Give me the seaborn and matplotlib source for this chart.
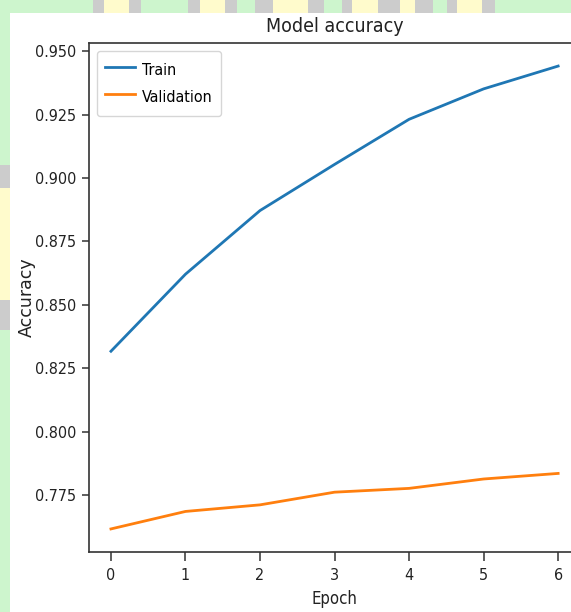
import matplotlib
matplotlib.use("Agg")
import matplotlib.pyplot as plt
from matplotlib.patches import Rectangle
from matplotlib.lines import Line2D
import seaborn as sns
import pandas as pd

# ---- data ----
epochs = [0, 1, 2, 3, 4, 5, 6]
train_acc = [0.8317, 0.8621, 0.8872, 0.9054, 0.9232, 0.9352, 0.9442]
val_acc = [0.7616, 0.7685, 0.7711, 0.7761, 0.7776, 0.7813, 0.7835]
series_names = ["Train", "Validation"]
series_colors = ["#1f77b4", "#ff7f0e"]
y_ticks = [0.775, 0.800, 0.825, 0.850, 0.875, 0.900, 0.925, 0.950]
title = "Model accuracy"
x_label = "Epoch"
y_label = "Accuracy"

W, H = 571, 612
fig = plt.figure(figsize=(W / 100, H / 100), dpi=100, facecolor="#cdf5cd")

def px_rect(x0, y0, x1, y1, color, z=0):
    fig.add_artist(Rectangle((x0 / W, 1 - y1 / H), (x1 - x0) / W, (y1 - y0) / H,
                             transform=fig.transFigure, facecolor=color,
                             edgecolor="none", zorder=z))

GREEN, YELLOW, GRAY = "#cdf5cd", "#fffbcc", "#cccccc"
# decorative background strip along the top
top = [(93, 104, GRAY), (104, 129, YELLOW), (129, 141, GRAY), (188, 200, GRAY),
       (200, 225, YELLOW), (225, 237, GRAY), (255, 273, GRAY), (273, 308, YELLOW),
       (308, 324, GRAY), (342, 352, GRAY), (352, 378, YELLOW), (378, 400, GRAY),
       (400, 415, YELLOW), (415, 433, GRAY), (447, 457, GRAY), (457, 482, YELLOW),
       (482, 495, GRAY)]
for x0, x1, c in top:
    px_rect(x0, 0, x1, 13, c, z=-5)
# decorative strip along the left
left = [(165, 188, GRAY), (188, 300, YELLOW), (300, 330, GRAY)]
for y0, y1, c in left:
    px_rect(0, y0, 10, y1, c, z=-5)
# white screenshot area
px_rect(10, 13, W, H, "white", z=-4)

ax = fig.add_axes([88.6 / W, 1 - 552 / H, (580.5 - 88.6) / W, (552 - 43) / H])
ax.set_facecolor("white")

df = pd.DataFrame({"epoch": epochs * 2,
                   "accuracy": train_acc + val_acc,
                   "series": [series_names[0]] * len(epochs) + [series_names[1]] * len(epochs)})
sns.lineplot(data=df, x="epoch", y="accuracy", hue="series",
             palette=dict(zip(series_names, series_colors)), linewidth=2.0,
             ax=ax, legend=False)

fp = dict(family="DejaVu Sans", stretch="condensed")
ax.set_title(title, fontsize=14, pad=8, color="#222222", **fp)
ax.set_xlabel(x_label, fontsize=12, labelpad=5, color="#222222", **fp)
ax.set_ylabel(y_label, fontsize=12.5, color="#222222", family="DejaVu Sans")
ax.yaxis.set_label_coords(-0.108, 0.5)
ax.set_xticks(epochs)
ax.set_yticks(y_ticks)
ax.set_yticklabels([f"{v:.3f}" for v in y_ticks])
for lab in ax.get_xticklabels() + ax.get_yticklabels():
    lab.set_fontfamily("DejaVu Sans")
    lab.set_fontstretch("condensed")
    lab.set_fontsize(11.5)
    lab.set_color("#222222")
ax.tick_params(axis="y", length=5, width=1.1, pad=4, color="#333333")
ax.tick_params(axis="x", length=6.5, width=1.1, pad=5, color="#333333")
for s in ax.spines.values():
    s.set_color("#333333")
    s.set_linewidth(1.2)
ax.set_xlim(-0.3, 6.3)
ax.set_ylim(0.7525, 0.9533)

handles = [Line2D([], [], color=c, lw=2.0) for c in series_colors]
leg = ax.legend(handles, series_names, loc="upper left",
                prop=dict(family="DejaVu Sans", stretch="condensed", size=11.5),
                labelspacing=0.35, handlelength=1.875, handleheight=1.7,
                borderaxespad=0.5, handletextpad=0.45, borderpad=0.52)

fig.savefig("out.png", dpi=100, facecolor=fig.get_facecolor())
